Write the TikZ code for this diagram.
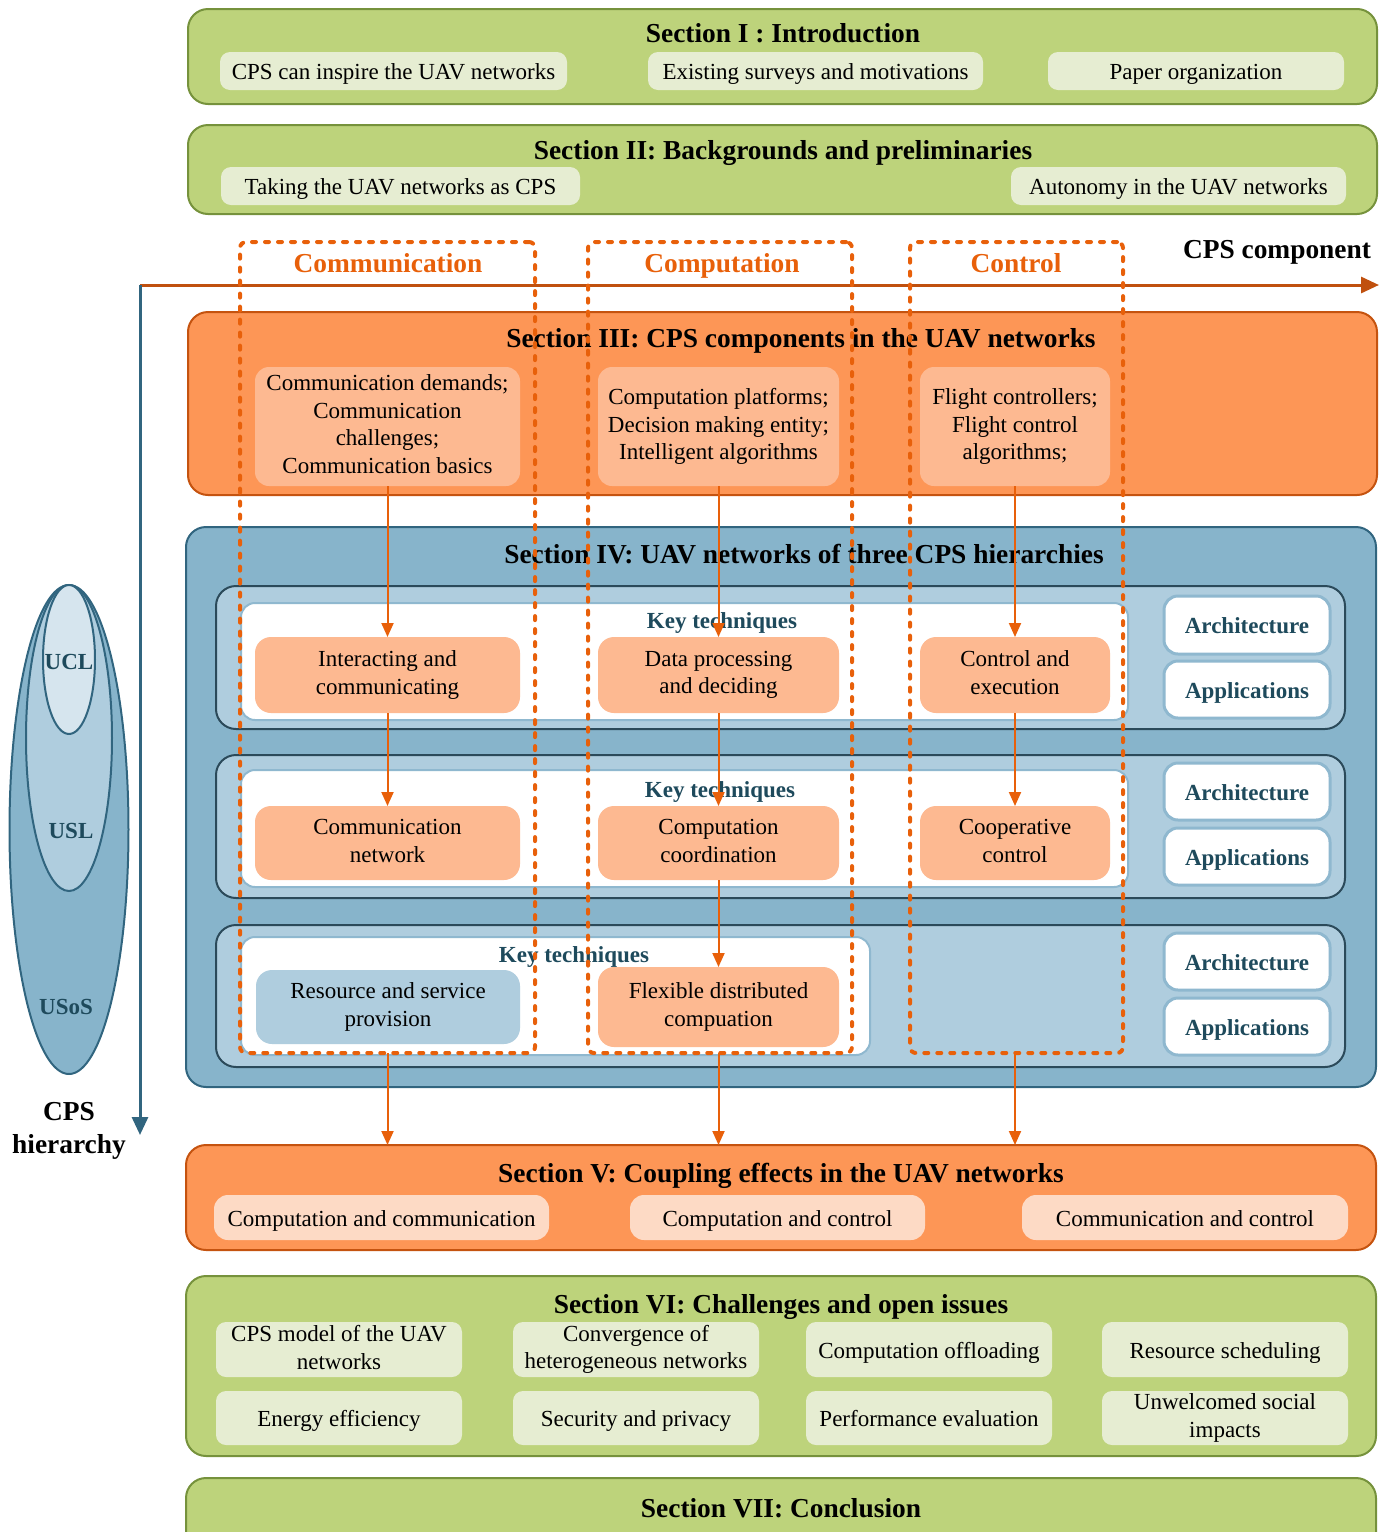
\documentclass[tikz,border=0pt]{standalone}
\usepackage{fontspec}
\setmainfont{Liberation Serif}
\usetikzlibrary{arrows.meta,shapes.geometric}
\definecolor{grn}{HTML}{BDD37B}
\definecolor{grnb}{HTML}{76923C}
\definecolor{grnl}{HTML}{E6EDD2}
\definecolor{org}{HTML}{FD9656}
\definecolor{orgb}{HTML}{C5530F}
\definecolor{orgl}{HTML}{FDB991}
\definecolor{orgxl}{HTML}{FDDAC5}
\definecolor{blu}{HTML}{87B4CB}
\definecolor{blub}{HTML}{31657F}
\definecolor{blul}{HTML}{AFCDDE}
\definecolor{bluxl}{HTML}{D6E5EE}
\definecolor{rowb}{HTML}{2B4A5A}
\definecolor{whb}{HTML}{8FB8CF}
\definecolor{dsh}{HTML}{E8600A}
\definecolor{axo}{HTML}{C0500E}
\definecolor{slate}{HTML}{1E4A5C}
\newcommand\bodyf{\fontsize{11.5pt}{13.8pt}\selectfont}
\newcommand\titf{\fontsize{13.7pt}{16.5pt}\selectfont\bfseries}
\newcommand\topstr{\rule{0pt}{11pt}}
\newcommand\botstr{\rule[-2.4pt]{0pt}{2.4pt}}
\newcommand\bx[7]{\node[#6,minimum width={(#4-#2)*0.5pt},minimum height={(#5-#3)*0.5pt}] (#1) at ({(#2+#4)/2},{(#3+#5)/2}) {#7};}
\tikzset{
  every node/.style={inner sep=0pt,outer sep=0pt,align=center,font=\bodyf},
  txt/.style={execute at begin node=\topstr,execute at end node=\botstr},
  secg/.style={draw=grnb,fill=grn,line width=1pt,rounded corners=10pt},
  seco/.style={draw=orgb,fill=org,line width=1pt,rounded corners=10pt},
  secb/.style={draw=blub,fill=blu,line width=1pt,rounded corners=10pt},
  subg/.style={txt,fill=grnl,rounded corners=5pt},
  subo/.style={txt,fill=orgl,rounded corners=7pt},
  subv/.style={txt,fill=orgxl,rounded corners=7pt},
  rowbox/.style={draw=rowb,fill=blul,line width=1pt,rounded corners=10pt},
  inbox/.style={draw=whb,fill=white,line width=1pt,rounded corners=7pt},
  keybox/.style={txt,fill=orgl,rounded corners=8pt},
  keyblue/.style={txt,fill=blul,rounded corners=8pt},
  archbox/.style={txt,draw=whb,fill=white,line width=1.5pt,rounded corners=7pt,font=\bodyf\bfseries,text=slate},
  dbox/.style={draw=dsh,line width=2pt,dash pattern=on 2pt off 4.5pt,line cap=round,rounded corners=3pt},
  arr/.style={draw=dsh,line width=1pt,-{Triangle[length=7pt,width=6pt]}},
  ttl/.style={font=\titf,anchor=base},
  lbl/.style={font=\titf,anchor=base,text=dsh},
  keyt/.style={font=\bodyf\bfseries,text=slate,anchor=base},
  ell/.style={ellipse,draw=blub,line width=1pt},
  elbl/.style={font=\bodyf\bfseries,text=slate},
}
\begin{document}
\begin{tikzpicture}[x=0.5pt,y=-0.5pt]
\useasboundingbox (0,0) rectangle (1388,1532);
% Section I
\bx{s1}{188}{9}{1377}{104}{secg}{}
\node[ttl] (s1t) at (783,42) {Section I : Introduction};
\bx{s1a}{220}{52}{567}{90}{subg}{CPS can inspire the UAV networks}
\bx{s1b}{648}{52}{983}{90}{subg}{Existing surveys and motivations}
\bx{s1c}{1048}{52}{1344}{90}{subg}{Paper organization}
% Section II
\bx{s2}{188}{125}{1377}{214}{secg}{}
\node[ttl] (s2t) at (783,159) {Section II: Backgrounds and preliminaries};
\bx{s2a}{221}{167}{580}{205}{subg}{Taking the UAV networks as CPS}
\bx{s2b}{1011}{167}{1346}{205}{subg}{Autonomy in the UAV networks}
% axes
\coordinate (o) at (140,285);
\coordinate (xe) at (1379,285);
\coordinate (ye) at (140,1135);
\draw[line width=1.5pt,axo,-{Triangle[length=9pt,width=8pt]}] (o) -- (xe);
\draw[line width=1.5pt,blub,-{Triangle[length=9pt,width=8pt]}] (o) -- (ye);
\node[ttl] (cpsc) at (1277,258) {CPS component};
\node[font=\titf] (cpsh) at (69,1131) {CPS\\hierarchy};
% ellipses
\node[ell,fill=blu,minimum width=59.5pt,minimum height=244.5pt] (usos) at (69,829.5) {};
\node[ell,fill=blul,minimum width=43pt,minimum height=153pt] (usl) at (69,738) {};
\node[ell,fill=bluxl,minimum width=26pt,minimum height=74.5pt] (ucl) at (69,659.5) {};
\node[elbl] (lucl) at (69,662) {UCL};
\node[elbl] (lusl) at (71,831) {USL};
\node[elbl] (lusos) at (66,1007) {USoS};
% Section III
\bx{s3}{188}{312}{1377}{495}{seco}{}
\node[ttl] (s3t) at (801,347) {Section III: CPS components in the UAV networks};
\bx{s3comm}{255}{367}{520}{486}{subo}{Communication demands;\\Communication\\challenges;\\Communication basics}
\bx{s3comp}{598}{367}{839}{486}{subo}{Computation platforms;\\Decision making entity;\\Intelligent algorithms}
\bx{s3ctrl}{920}{367}{1110}{486}{subo}{Flight controllers;\\Flight control\\algorithms;}
% Section IV
\bx{s4}{186}{527}{1376}{1087}{secb}{}
\node[ttl] (s4t) at (804,563) {Section IV: UAV networks of three CPS hierarchies};
% row 1
\bx{r1}{216}{586}{1345}{729}{rowbox}{}
\bx{w1}{241}{603}{1128}{720}{inbox}{}
\node[keyt] (kt1) at (722,628) {Key techniques};
\bx{k1comm}{255}{637}{520}{713}{keybox}{Interacting and\\communicating}
\bx{k1comp}{598}{637}{839}{713}{keybox}{Data processing\\and deciding}
\bx{k1ctrl}{920}{637}{1110}{713}{keybox}{Control and\\execution}
\bx{a1}{1164}{596}{1330}{654}{archbox}{Architecture}
\bx{p1}{1164}{661}{1330}{718}{archbox}{Applications}
% row 2
\bx{r2}{216}{755}{1345}{898}{rowbox}{}
\bx{w2}{241}{770}{1128}{887}{inbox}{}
\node[keyt] (kt2) at (720,797) {Key techniques};
\bx{k2comm}{255}{806}{520}{880}{keybox}{Communication\\network}
\bx{k2comp}{598}{806}{839}{880}{keybox}{Computation\\coordination}
\bx{k2ctrl}{920}{806}{1110}{880}{keybox}{Cooperative\\control}
\bx{a2}{1164}{763}{1330}{820}{archbox}{Architecture}
\bx{p2}{1164}{828}{1330}{885}{archbox}{Applications}
% row 3
\bx{r3}{216}{925}{1345}{1067}{rowbox}{}
\bx{w3}{241}{937}{870}{1055}{inbox}{}
\node[keyt] (kt3) at (574,962) {Key techniques};
\bx{k3comm}{256}{970}{520}{1044}{keyblue}{Resource and service\\provision}
\bx{k3comp}{598}{967}{839}{1047}{keybox}{Flexible distributed\\compuation}
\bx{a3}{1164}{933}{1330}{990}{archbox}{Architecture}
\bx{p3}{1164}{998}{1330}{1055}{archbox}{Applications}
% Section V
\bx{s5}{186}{1145}{1376}{1250}{seco}{}
\node[ttl] (s5t) at (781,1182) {Section V: Coupling effects in the UAV networks};
\bx{s5a}{214}{1195}{549}{1240}{subv}{Computation and communication}
\bx{s5b}{630}{1195}{925}{1240}{subv}{Computation and control}
\bx{s5c}{1022}{1195}{1348}{1240}{subv}{Communication and control}
% Section VI
\bx{s6}{186}{1276}{1376}{1456}{secg}{}
\node[ttl] (s6t) at (781,1313) {Section VI: Challenges and open issues};
\bx{c11}{216}{1322}{462}{1377}{subg}{CPS model of the UAV\\networks}
\bx{c12}{513}{1322}{759}{1377}{subg}{Convergence of\\heterogeneous networks}
\bx{c13}{806}{1322}{1052}{1377}{subg}{Computation offloading}
\bx{c14}{1102}{1322}{1348}{1377}{subg}{Resource scheduling}
\bx{c21}{216}{1391}{462}{1445}{subg}{Energy efficiency}
\bx{c22}{513}{1391}{759}{1445}{subg}{Security and privacy}
\bx{c23}{806}{1391}{1052}{1445}{subg}{Performance evaluation}
\bx{c24}{1102}{1391}{1348}{1445}{subg}{Unwelcomed social\\impacts}
% Section VII
\bx{s7}{186}{1478}{1376}{1590}{secg}{}
\node[ttl] (s7t) at (781,1517) {Section VII: Conclusion};
% dashed component boxes
\bx{dcomm}{240}{242}{535}{1053}{dbox}{}
\bx{dcomp}{588}{242}{852}{1053}{dbox}{}
\bx{dctrl}{910}{242}{1123}{1053}{dbox}{}
\node[lbl] (lcomm) at (388,272) {Communication};
\node[lbl] (lcomp) at (722,272) {Computation};
\node[lbl] (lctrl) at (1016,272) {Control};
% arrows
\draw[arr] (s3comm.south) -- (k1comm.north);
\draw[arr] (k1comm.south) -- (k2comm.north);
\draw[arr] (dcomm.south -| k1comm) -- (s5.north -| k1comm);
\draw[arr] (s3comp.south) -- (k1comp.north);
\draw[arr] (k1comp.south) -- (k2comp.north);
\draw[arr] (k2comp.south) -- (k3comp.north);
\draw[arr] (dcomp.south -| k1comp) -- (s5.north -| k1comp);
\draw[arr] (s3ctrl.south) -- (k1ctrl.north);
\draw[arr] (k1ctrl.south) -- (k2ctrl.north);
\draw[arr] (dctrl.south -| k1ctrl) -- (s5.north -| k1ctrl);
\end{tikzpicture}
\end{document}
